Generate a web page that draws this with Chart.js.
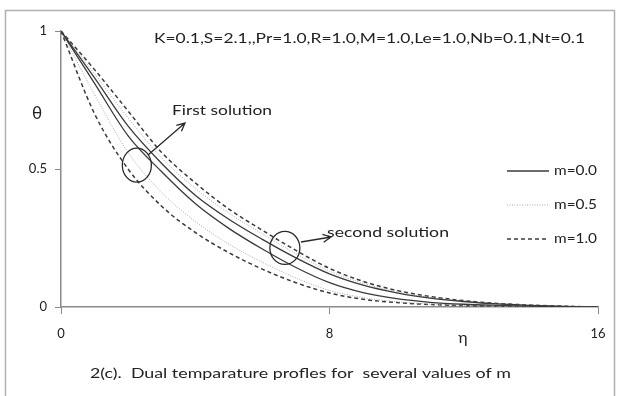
<!DOCTYPE html>
<html>
<head>
<meta charset="utf-8">
<script src="https://cdn.jsdelivr.net/npm/chart.js@4.4.1/dist/chart.umd.min.js"></script>
<style>
  html, body { margin: 0; padding: 0; background: #fff; }
</style>
</head>
<body>
<canvas id="chart" width="621" height="396"></canvas>
<script>
// eta grid and temperature profiles
const eta = [0, 1, 2, 3, 4, 5, 6, 7, 8, 9, 10, 11, 12, 13, 14, 15, 16];

// first solution branch (faster decay)
const firstM00 = [1, 0.81, 0.62, 0.49, 0.375, 0.285, 0.21, 0.143, 0.088, 0.052, 0.03, 0.017, 0.01, 0.006, 0.003, 0.001, 0];
const firstM05 = [1, 0.77, 0.56, 0.415, 0.31, 0.228, 0.162, 0.105, 0.06, 0.034, 0.019, 0.011, 0.006, 0.003, 0.002, 0.001, 0];
const firstM10 = [1, 0.70, 0.50, 0.365, 0.27, 0.197, 0.137, 0.088, 0.051, 0.028, 0.016, 0.009, 0.005, 0.003, 0.001, 0.0005, 0];

// second solution branch (slower decay)
const secondM00 = [1, 0.83, 0.655, 0.52, 0.405, 0.318, 0.245, 0.178, 0.12, 0.079, 0.051, 0.032, 0.02, 0.011, 0.006, 0.002, 0];
const secondM05 = [1, 0.845, 0.685, 0.54, 0.43, 0.34, 0.265, 0.193, 0.13, 0.086, 0.056, 0.035, 0.021, 0.012, 0.006, 0.002, 0];
const secondM10 = [1, 0.86, 0.71, 0.56, 0.45, 0.355, 0.278, 0.205, 0.14, 0.093, 0.06, 0.038, 0.023, 0.013, 0.007, 0.003, 0];

const xTicks = [0, 8, 16];
const yTicks = ["0", "0.5", "1"];
const legendLabels = ["m=0.0", "m=0.5", "m=1.0"];

const FONT = "Lato, 'Open Sans', sans-serif";

const solid = { borderColor: "#3a3a3a", borderWidth: 1.3, borderDash: [] };
const dotted = { borderColor: "#a8a8a8", borderWidth: 1, borderDash: [1, 1.5] };
const dashed = { borderColor: "#3a3a3a", borderWidth: 1.5, borderDash: [4, 3] };

const pts = (ys) => eta.map((x, i) => ({ x: x, y: ys[i] }));

function line(label, ys, style) {
  return Object.assign({
    label: label,
    data: pts(ys),
    pointRadius: 0,
    fill: false,
    cubicInterpolationMode: "monotone",
  }, style);
}

// text helper, squeezes horizontally to a target width when given
function txt(ctx, s, x, y, size, width, align) {
  ctx.save();
  ctx.font = size + "px " + FONT;
  ctx.fillStyle = "#222";
  ctx.textBaseline = "middle";
  const w = ctx.measureText(s).width;
  const k = width ? width / w : 1;
  let x0 = x;
  if (align === "center") x0 = x - (w * k) / 2;
  if (align === "right") x0 = x - w * k;
  ctx.translate(x0, y);
  ctx.scale(k, 1);
  ctx.textAlign = "left";
  ctx.fillText(s, 0, 0);
  ctx.restore();
}

function arrow(ctx, x1, y1, x2, y2) {
  const a = Math.atan2(y2 - y1, x2 - x1);
  const h = 9;
  ctx.beginPath();
  ctx.moveTo(x1, y1);
  ctx.lineTo(x2, y2);
  ctx.moveTo(x2 - h * Math.cos(a - 0.45), y2 - h * Math.sin(a - 0.45));
  ctx.lineTo(x2, y2);
  ctx.lineTo(x2 - h * Math.cos(a + 0.45), y2 - h * Math.sin(a + 0.45));
  ctx.stroke();
}

const decorations = {
  id: "decorations",
  afterDraw(chart) {
    const ctx = chart.ctx;
    const xs = chart.scales.x;
    const ys = chart.scales.y;
    ctx.save();

    // outer frame
    ctx.strokeStyle = "#b0b0b0";
    ctx.lineWidth = 1.5;
    ctx.strokeRect(5.5, 10.5, 609, 400);

    // parameters line
    txt(ctx, "K=0.1,S=2.1,,Pr=1.0,R=1.0,M=1.0,Le=1.0,Nb=0.1,Nt=0.1", 154, 38, 14, 431);

    // axis titles
    txt(ctx, "\u03b8", 32, 114, 17);
    txt(ctx, "\u03b7", 463, 338, 16, null, "center");

    // caption
    txt(ctx, "2(c).  Dual temparature profles for  several values of m", 90, 373, 14, 421);

    // circles around the branches
    ctx.strokeStyle = "#2a2a2a";
    ctx.lineWidth = 1.3;
    ctx.setLineDash([]);
    ctx.beginPath();
    ctx.ellipse(xs.getPixelForValue(2.26), ys.getPixelForValue(0.514), 14.5, 17, 0, 0, Math.PI * 2);
    ctx.stroke();
    ctx.beginPath();
    ctx.ellipse(xs.getPixelForValue(6.67), ys.getPixelForValue(0.214), 15, 16.5, 0, 0, Math.PI * 2);
    ctx.stroke();

    arrow(ctx, 148, 155, 185, 123);
    arrow(ctx, 301, 242, 331, 237);

    txt(ctx, "First solution", 172, 110, 14, 100);
    txt(ctx, "second solution", 327, 232, 14, 122);

    // legend
    const ly = [171, 205, 239];
    for (let i = 0; i < 3; i++) {
      const ds = chart.data.datasets[i];
      ctx.strokeStyle = ds.borderColor;
      ctx.lineWidth = ds.borderWidth;
      ctx.setLineDash(ds.borderDash);
      ctx.beginPath();
      ctx.moveTo(507, ly[i]);
      ctx.lineTo(549, ly[i]);
      ctx.stroke();
      ctx.setLineDash([]);
      txt(ctx, legendLabels[i], 554, ly[i], 13, 43);
    }
    ctx.restore();
  },
};

new Chart(document.getElementById("chart"), {
  type: "line",
  data: {
    datasets: [
      line(legendLabels[0], firstM00, solid),
      line(legendLabels[1], firstM05, dotted),
      line(legendLabels[2], firstM10, dashed),
      line(legendLabels[0], secondM00, solid),
      line(legendLabels[1], secondM05, dotted),
      line(legendLabels[2], secondM10, dashed),
    ],
  },
  options: {
    responsive: false,
    animation: false,
    layout: { padding: { left: 5, top: 31, right: 23, bottom: 49 } },
    plugins: { legend: { display: false }, tooltip: { enabled: false } },
    scales: {
      x: {
        type: "linear",
        min: 0,
        max: 16,
        afterBuildTicks: (s) => { s.ticks = xTicks.map((v) => ({ value: v })); },
        ticks: { color: "#222", font: { family: FONT, size: 13 }, padding: 12, maxRotation: 0 },
        grid: { drawOnChartArea: false, tickLength: 7, color: "#8a8a8a" },
        border: { color: "#8a8a8a", width: 1.5 },
        afterFit: (s) => { s.height = 40; },
      },
      y: {
        type: "linear",
        min: 0,
        max: 1,
        afterBuildTicks: (s) => { s.ticks = yTicks.map((v) => ({ value: Number(v) })); },
        ticks: {
          color: "#222",
          font: { family: FONT, size: 13 },
          padding: 8,
          callback: (v) => yTicks.find((t) => Number(t) === v),
        },
        grid: { drawOnChartArea: false, tickLength: 6, color: "#8a8a8a" },
        border: { color: "#8a8a8a", width: 1.5 },
        afterFit: (s) => { s.width = 56; },
      },
    },
  },
  plugins: [decorations],
});
</script>
</body>
</html>
